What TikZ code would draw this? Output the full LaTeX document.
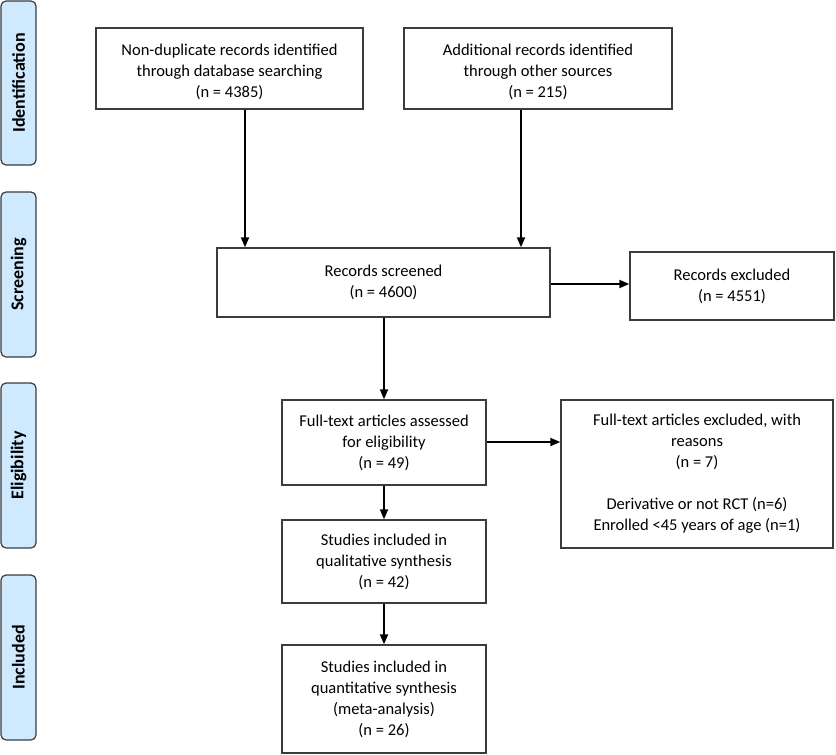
\documentclass[tikz,border=0pt]{standalone}
\usepackage{fontspec}
\setmainfont{Carlito}
\usetikzlibrary{arrows.meta}
\definecolor{sidefill}{RGB}{207,234,255}
\definecolor{edge}{RGB}{60,60,60}
\tikzset{
  flowbox/.style={draw=edge, line width=1.4pt, fill=white, align=center, inner sep=2pt,
    font=\fontsize{16.5}{21}\selectfont},
  sidebox/.style={draw=edge, line width=1.2pt, fill=sidefill, rounded corners=5pt,
    minimum width=35pt, inner sep=0pt},
  sidelabel/.style={rotate=90, font=\fontsize{18}{21}\selectfont\bfseries},
  arr/.style={line width=1.8pt, -{Triangle[length=10pt,width=8pt]}}
}
\begin{document}
\begin{tikzpicture}[x=1pt,y=-1pt]
\useasboundingbox (0,0) rectangle (836,755);
% side phase boxes
\node[sidebox, minimum height=164pt] (sid) at (18.5,83) {};
\node[sidelabel] (lid) at (sid.center) {Identification};
\node[sidebox, minimum height=165pt] (ssc) at (18.5,274.5) {};
\node[sidelabel] (lsc) at (ssc.center) {Screening};
\node[sidebox, minimum height=165pt] (sel) at (18.5,465.5) {};
\node[sidelabel] (lel) at (sel.center) {Eligibility};
\node[sidebox, minimum height=165pt] (sin) at (18.5,657.5) {};
\node[sidelabel] (lin) at (sin.center) {Included};
% flow boxes
\node[flowbox, minimum width=267pt, minimum height=81pt] (db) at (229.5,68.5) {};
\node[font=\fontsize{16.5}{21}\selectfont, align=center] (dbt) at ([yshift=-3pt]db.center)
  {Non-duplicate records identified\\through database searching\\(n = 4385)};
\node[flowbox, minimum width=268pt, minimum height=81pt] (other) at (538,68.5) {};
\node[font=\fontsize{16.5}{21}\selectfont, align=center] (othert) at ([yshift=-3pt]other.center)
  {Additional records identified\\through other sources\\(n = 215)};
\node[flowbox, minimum width=333pt, minimum height=69pt] (screen) at (383.5,282.5)
  {Records screened\\(n = 4600)};
\node[flowbox, minimum width=204pt, minimum height=68pt] (excl) at (732,286)
  {Records excluded\\(n = 4551)};
\node[flowbox, minimum width=204pt, minimum height=85pt] (full) at (384,442.5)
  {Full-text articles assessed\\for eligibility\\(n = 49)};
\node[flowbox, minimum width=272pt, minimum height=148pt] (fexcl) at (697,474)
  {Full-text articles excluded, with\\reasons\\(n = 7)\\[21pt]Derivative or not RCT (n=6)\\Enrolled <45 years of age (n=1)};
\node[flowbox, minimum width=204pt, minimum height=83pt] (qual) at (384,561.5)
  {Studies included in\\qualitative synthesis\\(n = 42)};
\node[flowbox, minimum width=204pt, minimum height=108pt] (quant) at (384,699)
  {Studies included in\\quantitative synthesis\\(meta-analysis)\\(n = 26)};
% connectors
\draw[arr] ([xshift=15.5pt]db.south) -- ([xshift=15.5pt]db.south |- screen.north);
\draw[arr] ([xshift=-17pt]other.south) -- ([xshift=-17pt]other.south |- screen.north);
\draw[arr] ([yshift=-1.5pt]screen.east) -- ([yshift=-1.5pt]screen.east -| excl.west);
\draw[arr] (screen.south -| full.north) -- (full.north);
\draw[arr] ([yshift=0.5pt]full.east) -- ([yshift=0.5pt]full.east -| fexcl.west);
\draw[arr] (full.south) -- (qual.north);
\draw[arr] (qual.south) -- (quant.north);
\end{tikzpicture}
\end{document}
